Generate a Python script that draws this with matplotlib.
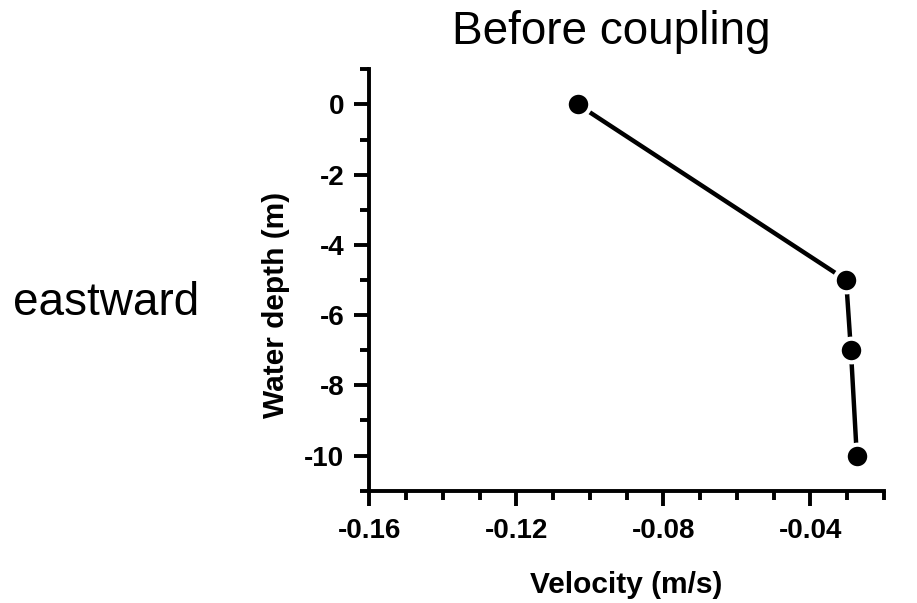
"""Velocity profile before coupling (eastward component)."""
import matplotlib
matplotlib.use("Agg")
import matplotlib.pyplot as plt
from matplotlib.ticker import MultipleLocator

plt.rcParams["font.family"] = ["Liberation Sans", "DejaVu Sans"]
plt.rcParams["axes.unicode_minus"] = False

velocity = [-0.1033, -0.0303, -0.0290, -0.0274]
depth = [0, -5, -7, -10]

x_ticks = [-0.16, -0.12, -0.08, -0.04]
y_ticks = [0, -2, -4, -6, -8, -10]

W, H = 917, 603


def main():
    fig = plt.figure(figsize=(W / 100, H / 100), dpi=100)
    fig.patch.set_facecolor("white")

    # axes box in pixels: x 369..884, y 69..491
    ax = fig.add_axes([369.3 / W, 1 - 490.7 / H, (884 - 369.3) / W, (490.7 - 69.3) / H])

    ax.plot(velocity, depth, color="black", linewidth=3.2, marker="o",
            markersize=17, markerfacecolor="black", markeredgecolor="white",
            markeredgewidth=3, zorder=3, clip_on=False)

    ax.set_xlim(-0.16, -0.02)
    ax.set_ylim(-11, 1)
    ax.set_xticks(x_ticks)
    ax.set_xticklabels([f"{v:.2f}" for v in x_ticks])
    ax.set_yticks(y_ticks)
    ax.xaxis.set_minor_locator(MultipleLocator(0.01))
    ax.yaxis.set_minor_locator(MultipleLocator(1))

    for side in ("top", "right"):
        ax.spines[side].set_visible(False)
    for side in ("left", "bottom"):
        ax.spines[side].set_linewidth(2.8)

    ax.tick_params(which="major", direction="out", length=11, width=2.8, labelsize=20)
    ax.tick_params(which="minor", direction="out", length=6.5, width=2.8)
    ax.tick_params(axis="x", which="major", pad=9)
    ax.tick_params(axis="y", which="major", pad=7)
    for lab in ax.get_xticklabels() + ax.get_yticklabels():
        lab.set_fontweight("bold")

    ax.set_xlabel("Velocity (m/s)", fontsize=21.5, fontweight="bold")
    ax.set_ylabel("Water depth (m)", fontsize=21.5, fontweight="bold")
    ax.xaxis.set_label_coords(0.5, -0.19)
    ax.yaxis.set_label_coords(-0.154, 0.44)

    fig.text(611 / W, 1 - 44 / H, "Before coupling", fontsize=33,
             ha="center", va="baseline")
    fig.text(12.7 / W, 1 - 315 / H, "eastward", fontsize=33,
             ha="left", va="baseline")

    fig.savefig("out.png", dpi=100, facecolor="white")
    plt.close(fig)


if __name__ == "__main__":
    main()
